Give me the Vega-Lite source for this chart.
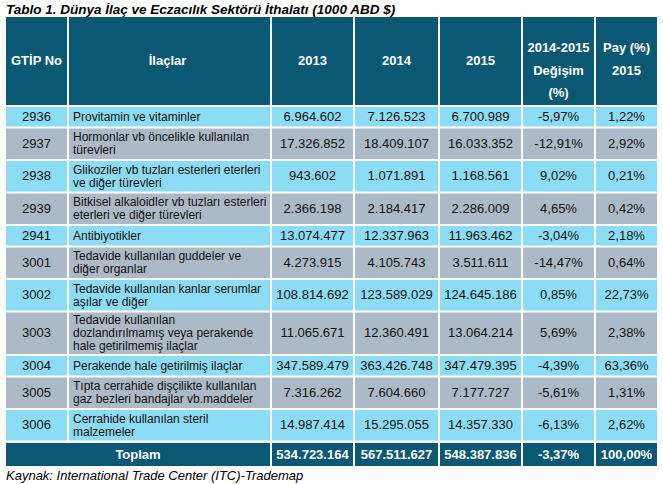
{
  "$schema": "https://vega.github.io/schema/vega-lite/v6.json",
  "padding": {"left": 6, "right": 6, "top": 2, "bottom": 0},
  "background": "white",
  "config": {
    "view": {"stroke": null},
    "concat": {"spacing": 2},
    "locale": {"number": {"decimal": ",", "thousands": ".", "grouping": [3], "currency": ["", ""], "minus": "-", "percent": "%"}},
    "text": {"font": "Liberation Sans", "fontSize": 13, "color": "#111111", "baseline": "middle"}
  },
  "title": {
    "text": "Tablo 1. Dünya İlaç ve Eczacılık Sektörü İthalatı (1000 ABD $)",
    "anchor": "start", "font": "Liberation Sans", "fontSize": 13.5, "fontWeight": "bold", "fontStyle": "italic",
    "color": "#000000", "baseline": "top", "offset": 1
  },
  "datasets": {
    "header": [
      {"col": "gtip", "label": ["GTİP No"]},
      {"col": "ilac", "label": ["İlaçlar"]},
      {"col": "y2013", "label": ["2013"]},
      {"col": "y2014", "label": ["2014"]},
      {"col": "y2015", "label": ["2015"]},
      {"col": "chg", "label": ["2014-2015", "Değişim", "(%)"]},
      {"col": "pay", "label": ["Pay (%)", "2015"]}
    ],
    "rows": [
      {"gtip": "2936", "ilac": ["Provitamin ve vitaminler"], "y2013": 6964602, "y2014": 7126523, "y2015": 6700989, "chg": -0.0597, "pay": 0.0122},
      {"gtip": "2937", "ilac": ["Hormonlar vb öncelikle kullanılan", "türevleri"], "y2013": 17326852, "y2014": 18409107, "y2015": 16033352, "chg": -0.1291, "pay": 0.0292},
      {"gtip": "2938", "ilac": ["Glikoziler vb tuzları esterleri eterleri", "ve diğer türevleri"], "y2013": 943602, "y2014": 1071891, "y2015": 1168561, "chg": 0.0902, "pay": 0.0021},
      {"gtip": "2939", "ilac": ["Bitkisel alkaloidler vb tuzları esterleri", "eterleri ve diğer türevleri"], "y2013": 2366198, "y2014": 2184417, "y2015": 2286009, "chg": 0.0465, "pay": 0.0042},
      {"gtip": "2941", "ilac": ["Antibiyotikler"], "y2013": 13074477, "y2014": 12337963, "y2015": 11963462, "chg": -0.0304, "pay": 0.0218},
      {"gtip": "3001", "ilac": ["Tedavide kullanılan guddeler ve", "diğer organlar"], "y2013": 4273915, "y2014": 4105743, "y2015": 3511611, "chg": -0.1447, "pay": 0.0064},
      {"gtip": "3002", "ilac": ["Tedavide kullanılan kanlar serumlar", "aşılar ve diğer"], "y2013": 108814692, "y2014": 123589029, "y2015": 124645186, "chg": 0.0085, "pay": 0.2273},
      {"gtip": "3003", "ilac": ["Tedavide kullanılan", "dozlandırılmamış veya perakende", "hale getirilmemiş ilaçlar"], "y2013": 11065671, "y2014": 12360491, "y2015": 13064214, "chg": 0.0569, "pay": 0.0238},
      {"gtip": "3004", "ilac": ["Perakende hale getirilmiş ilaçlar"], "y2013": 347589479, "y2014": 363426748, "y2015": 347479395, "chg": -0.0439, "pay": 0.6336},
      {"gtip": "3005", "ilac": ["Tıpta cerrahide dişçilikte kullanılan", "gaz bezleri bandajlar vb.maddeler"], "y2013": 7316262, "y2014": 7604660, "y2015": 7177727, "chg": -0.0561, "pay": 0.0131},
      {"gtip": "3006", "ilac": ["Cerrahide kullanılan steril", "malzemeler"], "y2013": 14987414, "y2014": 15295055, "y2015": 14357330, "chg": -0.0613, "pay": 0.0262}
    ],
    "total": [
      {"label": "Toplam", "y2013": 534723164, "y2014": 567511627, "y2015": 548387836, "chg": -0.0337, "pay": 1}
    ]
  },
  "vconcat": [
    {
      "hconcat": [
        {"width": 61, "height": 88, "view": {"fill": "#0a5873", "stroke": null}, "data": {"name": "header"}, "transform": [{"filter": "datum.col == 'gtip'"}],
         "mark": {"type": "text", "fontWeight": "bold", "color": "white", "lineHeight": 22.5}, "encoding": {"text": {"field": "label"}}},
        {"width": 201, "height": 88, "view": {"fill": "#0a5873", "stroke": null}, "data": {"name": "header"}, "transform": [{"filter": "datum.col == 'ilac'"}],
         "mark": {"type": "text", "fontWeight": "bold", "color": "white", "lineHeight": 22.5, "dx": -2}, "encoding": {"text": {"field": "label"}}},
        {"width": 81, "height": 88, "view": {"fill": "#0a5873", "stroke": null}, "data": {"name": "header"}, "transform": [{"filter": "datum.col == 'y2013'"}],
         "mark": {"type": "text", "fontWeight": "bold", "color": "white", "lineHeight": 22.5}, "encoding": {"text": {"field": "label"}}},
        {"width": 83, "height": 88, "view": {"fill": "#0a5873", "stroke": null}, "data": {"name": "header"}, "transform": [{"filter": "datum.col == 'y2014'"}],
         "mark": {"type": "text", "fontWeight": "bold", "color": "white", "lineHeight": 22.5}, "encoding": {"text": {"field": "label"}}},
        {"width": 81, "height": 88, "view": {"fill": "#0a5873", "stroke": null}, "data": {"name": "header"}, "transform": [{"filter": "datum.col == 'y2015'"}],
         "mark": {"type": "text", "fontWeight": "bold", "color": "white", "lineHeight": 22.5}, "encoding": {"text": {"field": "label"}}},
        {"width": 71, "height": 88, "view": {"fill": "#0a5873", "stroke": null}, "data": {"name": "header"}, "transform": [{"filter": "datum.col == 'chg'"}],
         "mark": {"type": "text", "fontWeight": "bold", "color": "white", "lineHeight": 22.5, "dy": -13}, "encoding": {"text": {"field": "label"}}},
        {"width": 61, "height": 88, "view": {"fill": "#0a5873", "stroke": null}, "data": {"name": "header"}, "transform": [{"filter": "datum.col == 'pay'"}],
         "mark": {"type": "text", "fontWeight": "bold", "color": "white", "lineHeight": 22.5, "dy": -13}, "encoding": {"text": {"field": "label"}}}
      ]
    },
    {
      "data": {"name": "rows"},
      "transform": [
        {"calculate": "length(datum.ilac)", "as": "nl"},
        {"window": [{"op": "sum", "field": "nl", "as": "cum"}, {"op": "row_number", "as": "rn"}], "sort": [{"field": "gtip"}], "frame": [null, 0]},
        {"calculate": "11 * (datum.cum - datum.nl) + 10.5 * (datum.rn - 1)", "as": "top"},
        {"calculate": "datum.top + 8.5 + 11 * datum.nl", "as": "bot"},
        {"calculate": "(datum.top + datum.bot) / 2", "as": "mid"},
        {"calculate": "datum.mid - 6.5 * (datum.nl - 1)", "as": "ty"}
      ],
      "hconcat": [
        {"width": 61, "height": 334, "layer": [
          {"mark": "rect", "encoding": {
            "y": {"field": "top", "type": "quantitative", "scale": {"domain": [0, 334], "reverse": true, "nice": false, "zero": false}, "axis": null},
            "y2": {"field": "bot"},
            "color": {"field": "gtip", "type": "nominal", "scale": {"range": ["#8ddcf6", "#acb9c7"]}, "legend": null}}},
          {"mark": {"type": "text"}, "encoding": {
            "y": {"field": "mid", "type": "quantitative", "scale": {"domain": [0, 334], "reverse": true, "nice": false, "zero": false}, "axis": null},
            "text": {"field": "gtip"}}}
        ]},
        {"width": 201, "height": 334, "layer": [
          {"mark": "rect", "encoding": {
            "x": {"datum": 0, "type": "quantitative", "scale": {"domain": [0, 1], "nice": false, "zero": false}, "axis": null},
            "x2": {"datum": 1},
            "y": {"field": "top", "type": "quantitative", "scale": {"domain": [0, 334], "reverse": true, "nice": false, "zero": false}, "axis": null},
            "y2": {"field": "bot"},
            "color": {"field": "gtip", "type": "nominal", "scale": {"range": ["#8ddcf6", "#acb9c7"]}, "legend": null}}},
          {"mark": {"type": "text", "align": "left", "dx": 4, "fontSize": 12, "lineHeight": 13}, "encoding": {
            "x": {"datum": 0, "type": "quantitative", "scale": {"domain": [0, 1], "nice": false, "zero": false}, "axis": null},
            "y": {"field": "ty", "type": "quantitative", "scale": {"domain": [0, 334], "reverse": true, "nice": false, "zero": false}, "axis": null},
            "text": {"field": "ilac"}}}
        ]},
        {"width": 81, "height": 334, "layer": [
          {"mark": "rect", "encoding": {
            "y": {"field": "top", "type": "quantitative", "scale": {"domain": [0, 334], "reverse": true, "nice": false, "zero": false}, "axis": null},
            "y2": {"field": "bot"},
            "color": {"field": "gtip", "type": "nominal", "scale": {"range": ["#8ddcf6", "#acb9c7"]}, "legend": null}}},
          {"mark": {"type": "text"}, "encoding": {
            "y": {"field": "mid", "type": "quantitative", "scale": {"domain": [0, 334], "reverse": true, "nice": false, "zero": false}, "axis": null},
            "text": {"field": "y2013", "type": "quantitative", "format": ",.0f"}}}
        ]},
        {"width": 83, "height": 334, "layer": [
          {"mark": "rect", "encoding": {
            "y": {"field": "top", "type": "quantitative", "scale": {"domain": [0, 334], "reverse": true, "nice": false, "zero": false}, "axis": null},
            "y2": {"field": "bot"},
            "color": {"field": "gtip", "type": "nominal", "scale": {"range": ["#8ddcf6", "#acb9c7"]}, "legend": null}}},
          {"mark": {"type": "text"}, "encoding": {
            "y": {"field": "mid", "type": "quantitative", "scale": {"domain": [0, 334], "reverse": true, "nice": false, "zero": false}, "axis": null},
            "text": {"field": "y2014", "type": "quantitative", "format": ",.0f"}}}
        ]},
        {"width": 81, "height": 334, "layer": [
          {"mark": "rect", "encoding": {
            "y": {"field": "top", "type": "quantitative", "scale": {"domain": [0, 334], "reverse": true, "nice": false, "zero": false}, "axis": null},
            "y2": {"field": "bot"},
            "color": {"field": "gtip", "type": "nominal", "scale": {"range": ["#8ddcf6", "#acb9c7"]}, "legend": null}}},
          {"mark": {"type": "text"}, "encoding": {
            "y": {"field": "mid", "type": "quantitative", "scale": {"domain": [0, 334], "reverse": true, "nice": false, "zero": false}, "axis": null},
            "text": {"field": "y2015", "type": "quantitative", "format": ",.0f"}}}
        ]},
        {"width": 71, "height": 334, "layer": [
          {"mark": "rect", "encoding": {
            "y": {"field": "top", "type": "quantitative", "scale": {"domain": [0, 334], "reverse": true, "nice": false, "zero": false}, "axis": null},
            "y2": {"field": "bot"},
            "color": {"field": "gtip", "type": "nominal", "scale": {"range": ["#8ddcf6", "#acb9c7"]}, "legend": null}}},
          {"mark": {"type": "text"}, "encoding": {
            "y": {"field": "mid", "type": "quantitative", "scale": {"domain": [0, 334], "reverse": true, "nice": false, "zero": false}, "axis": null},
            "text": {"field": "chg", "type": "quantitative", "format": ".2%"}}}
        ]},
        {"width": 61, "height": 334, "layer": [
          {"mark": "rect", "encoding": {
            "y": {"field": "top", "type": "quantitative", "scale": {"domain": [0, 334], "reverse": true, "nice": false, "zero": false}, "axis": null},
            "y2": {"field": "bot"},
            "color": {"field": "gtip", "type": "nominal", "scale": {"range": ["#8ddcf6", "#acb9c7"]}, "legend": null}}},
          {"mark": {"type": "text"}, "encoding": {
            "y": {"field": "mid", "type": "quantitative", "scale": {"domain": [0, 334], "reverse": true, "nice": false, "zero": false}, "axis": null},
            "text": {"field": "pay", "type": "quantitative", "format": ".2%"}}}
        ]}
      ]
    },
    {
      "data": {"name": "total"},
      "title": {
        "text": "Kaynak: International Trade Center (ITC)-Trademap",
        "orient": "bottom", "anchor": "start", "font": "Liberation Sans", "fontSize": 13, "fontStyle": "italic", "fontWeight": "normal",
        "color": "#000000", "baseline": "top", "offset": 4
      },
      "hconcat": [
        {"width": 264, "height": 23, "view": {"fill": "#0a5873", "stroke": null},
         "mark": {"type": "text", "fontWeight": "bold", "color": "white"}, "encoding": {"text": {"field": "label"}}},
        {"width": 81, "height": 23, "view": {"fill": "#0a5873", "stroke": null},
         "mark": {"type": "text", "fontWeight": "bold", "color": "white"}, "encoding": {"text": {"field": "y2013", "type": "quantitative", "format": ",.0f"}}},
        {"width": 83, "height": 23, "view": {"fill": "#0a5873", "stroke": null},
         "mark": {"type": "text", "fontWeight": "bold", "color": "white"}, "encoding": {"text": {"field": "y2014", "type": "quantitative", "format": ",.0f"}}},
        {"width": 81, "height": 23, "view": {"fill": "#0a5873", "stroke": null},
         "mark": {"type": "text", "fontWeight": "bold", "color": "white"}, "encoding": {"text": {"field": "y2015", "type": "quantitative", "format": ",.0f"}}},
        {"width": 71, "height": 23, "view": {"fill": "#0a5873", "stroke": null},
         "mark": {"type": "text", "fontWeight": "bold", "color": "white"}, "encoding": {"text": {"field": "chg", "type": "quantitative", "format": ".2%"}}},
        {"width": 61, "height": 23, "view": {"fill": "#0a5873", "stroke": null},
         "mark": {"type": "text", "fontWeight": "bold", "color": "white"}, "encoding": {"text": {"field": "pay", "type": "quantitative", "format": ".2%"}}}
      ]
    }
  ]
}
